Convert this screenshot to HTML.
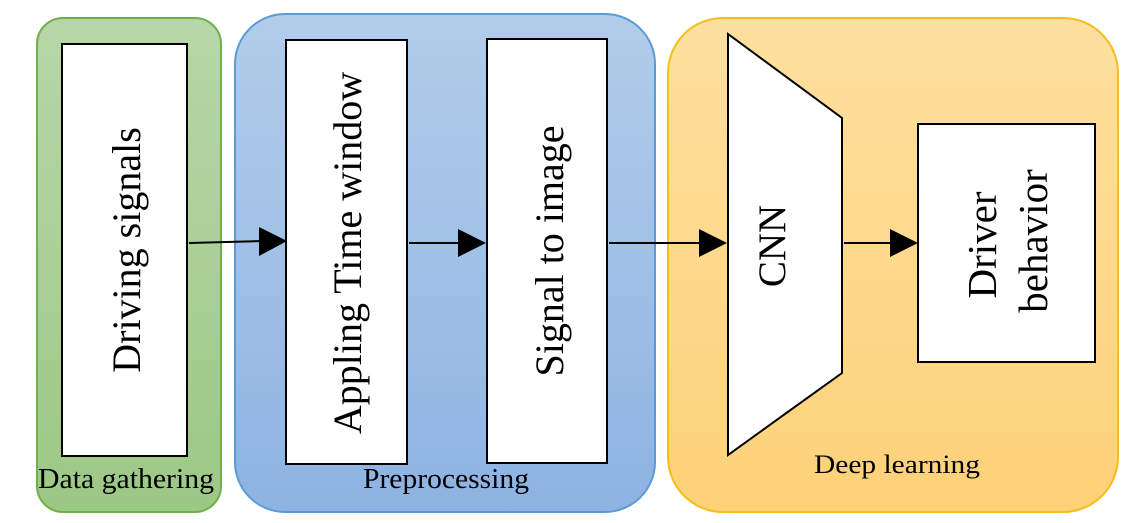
<!DOCTYPE html>
<html><head><style>html,body{margin:0;padding:0;background:#fff}svg{display:block}</style></head>
<body>
<svg width="1148" height="523" viewBox="0 0 1148 523" xmlns="http://www.w3.org/2000/svg" font-family="Liberation Serif, serif">
<defs>
<linearGradient id="g" x1="0" y1="0" x2="0" y2="1"><stop offset="0" stop-color="#b7d7a8"/><stop offset="1" stop-color="#9cc885"/></linearGradient>
<linearGradient id="b" x1="0" y1="0" x2="0" y2="1"><stop offset="0" stop-color="#b2cdea"/><stop offset="1" stop-color="#8eb3e2"/></linearGradient>
<linearGradient id="o" x1="0" y1="0" x2="0" y2="1"><stop offset="0" stop-color="#fee09f"/><stop offset="1" stop-color="#fdd178"/></linearGradient>
</defs>
<rect x="37" y="18" width="184" height="494" rx="26" fill="url(#g)" stroke="#72ae4c" stroke-width="2"/>
<rect x="235" y="14" width="420" height="498" rx="50" fill="url(#b)" stroke="#5b9bd5" stroke-width="2"/>
<rect x="668" y="18" width="450" height="494" rx="55" fill="url(#o)" stroke="#f5be1a" stroke-width="2"/>
<g stroke="#000" stroke-width="2" fill="#fff">
<rect x="62" y="44" width="125" height="412"/>
<rect x="286" y="40" width="121" height="424"/>
<rect x="487" y="39" width="120" height="424"/>
<polygon points="728,34 842,118 842,373 728,455"/>
<rect x="918" y="124" width="177" height="238"/>
</g>
<g stroke="#000" stroke-width="2">
<line x1="189" y1="243" x2="262" y2="241"/>
<line x1="409" y1="243" x2="460" y2="243"/>
<line x1="609" y1="243" x2="702" y2="243"/>
<line x1="844" y1="243" x2="893" y2="243"/>
</g>
<g fill="#000">
<polygon points="287,241 259,227 259,256"/>
<polygon points="486,243 458,229 458,257"/>
<polygon points="727,243 699,229 699,257"/>
<polygon points="918,243 890,229 890,257"/>
</g>
<g font-size="40" text-anchor="middle" fill="#000">
<text transform="translate(140,250) rotate(-90)">Driving signals</text>
<text transform="translate(361,253) rotate(-90)">Appling Time window</text>
<text transform="translate(563,251) rotate(-90)">Signal to image</text>
<text transform="translate(785,246) rotate(-90)" font-size="39">CNN</text>
<text transform="translate(996,245) rotate(-90)" font-size="41">Driver</text>
<text transform="translate(1047,241) rotate(-90)" font-size="41">behavior</text>
</g>
<g font-size="28" text-anchor="middle" fill="#000">
<text x="126" y="488" textLength="176" lengthAdjust="spacingAndGlyphs">Data gathering</text>
<text x="446" y="488" textLength="166" lengthAdjust="spacingAndGlyphs">Preprocessing</text>
<text x="897" y="473" font-size="26" textLength="166" lengthAdjust="spacingAndGlyphs">Deep learning</text>
</g>
</svg>
</body></html>
